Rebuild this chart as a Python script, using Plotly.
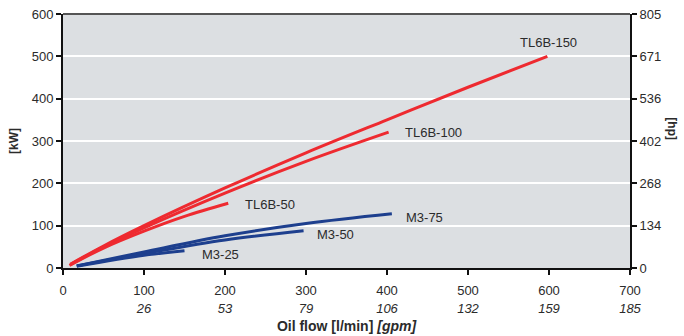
import plotly.graph_objects as go

# ---- data ----
tl150_x = [9, 50, 100, 200, 300, 400, 500, 598]
tl150_y = [9, 52, 100, 189, 272, 350, 427, 500]
tl100_x = [9, 50, 100, 200, 300, 402]
tl100_y = [8, 50, 95, 177, 252, 321]
tl50_x = [8, 50, 100, 150, 204]
tl50_y = [6, 47, 87, 122, 153]
m75_x = [17, 100, 200, 300, 406]
m75_y = [5, 38, 76, 105, 128]
m50_x = [17, 100, 200, 297]
m50_y = [5, 34, 66, 88]
m25_x = [17, 100, 150]
m25_y = [4, 30, 41]

labels = ["TL6B-150", "TL6B-100", "TL6B-50", "M3-75", "M3-50", "M3-25"]
label_x = [599, 420, 222, 421, 311, 169]
label_y = [532, 319, 149, 120, 80, 31]

x_ticks = [0, 100, 200, 300, 400, 500, 600, 700]
gpm_ticks = [100, 200, 300, 400, 500, 600, 700]
gpm_text = ["26", "53", "79", "106", "132", "159", "185"]
kw_ticks = [0, 100, 200, 300, 400, 500, 600]
hp_text = ["0", "134", "268", "402", "536", "671", "805"]
KW_TO_HP = 1.341

RED = "#ee2a30"
BLUE = "#1d3f8e"
FONT = "Liberation Sans, Arial, sans-serif"
TXT = "#2b2b2b"

fig = go.Figure()
for xs, ys, c in [(tl150_x, tl150_y, RED), (tl100_x, tl100_y, RED), (tl50_x, tl50_y, RED),
                  (m75_x, m75_y, BLUE), (m50_x, m50_y, BLUE), (m25_x, m25_y, BLUE)]:
    fig.add_trace(go.Scatter(x=xs, y=ys, mode="lines", line=dict(color=c, width=3, shape="spline"),
                             showlegend=False, hoverinfo="skip"))

# invisible traces to activate secondary axes
fig.add_trace(go.Scatter(x=[0, 700], y=[0, 0], xaxis="x2", yaxis="y", mode="markers",
                         marker=dict(opacity=0), showlegend=False, hoverinfo="skip"))
fig.add_trace(go.Scatter(x=[0, 0], y=[0, 600 * KW_TO_HP], xaxis="x", yaxis="y2", mode="markers",
                         marker=dict(opacity=0), showlegend=False, hoverinfo="skip"))

for i, t in enumerate(labels):
    fig.add_annotation(x=label_x[i], y=label_y[i], text=t, showarrow=False,
                       xanchor="center" if i == 0 else "left", yanchor="middle",
                       font=dict(family=FONT, size=13, color=TXT))

fig.update_layout(
    width=684, height=336,
    margin=dict(l=63, r=54, t=14, b=68, autoexpand=False),
    paper_bgcolor="white", plot_bgcolor="#dcdfe2",
    font=dict(family=FONT, size=13, color=TXT),
    xaxis=dict(range=[0, 700], tickvals=x_ticks, showgrid=False, zeroline=False,
               showline=True, linecolor="#111", linewidth=2, mirror=False,
               ticks="outside", ticklen=5, tickwidth=2, tickcolor="#111", automargin=False,
               ticklabelstandoff=4, tickfont=dict(size=13, color=TXT)),
    xaxis2=dict(range=[0, 700], overlaying="x", side="bottom", anchor="y",
                tickvals=gpm_ticks, ticktext=["<i>%s</i>" % g for g in gpm_text],
                showgrid=False, zeroline=False, showline=False, ticks="", automargin=False,
                ticklabelstandoff=31, tickfont=dict(size=13, color=TXT),
                title=dict(text="<b>Oil flow [l/min] <i>[gpm]</i></b>", standoff=6,
                           font=dict(size=14, color=TXT))),
    yaxis=dict(range=[0, 600], tickvals=kw_ticks, showgrid=True, gridcolor="white", gridwidth=2,
               zeroline=False, showline=True, linecolor="#111", linewidth=2, automargin=False,
               ticks="outside", ticklen=5, tickwidth=2, tickcolor="#111",
               tickfont=dict(size=13, color=TXT),
               title=dict(text="<b>[kW]</b>", standoff=10, font=dict(size=12, color=TXT))),
    yaxis2=dict(range=[0, 600 * KW_TO_HP], overlaying="y", side="right", anchor="x",
                tickvals=[k * KW_TO_HP for k in kw_ticks], ticktext=hp_text, automargin=False,
                showgrid=False, zeroline=False, showline=True, linecolor="#111", linewidth=2,
                ticks="outside", ticklen=5, tickwidth=2, tickcolor="#111",
                tickfont=dict(size=13, color=TXT)),
)
# top border
fig.add_shape(type="line", xref="paper", yref="paper", x0=0, x1=1, y0=1, y1=1,
              line=dict(color="#555", width=2))
# right axis title rotated
fig.add_annotation(xref="paper", yref="paper", x=1, y=0.55, xshift=51, text="<b>[hp]</b>",
                   textangle=90, showarrow=False, font=dict(size=12, color=TXT))

fig.write_html("out.html")
